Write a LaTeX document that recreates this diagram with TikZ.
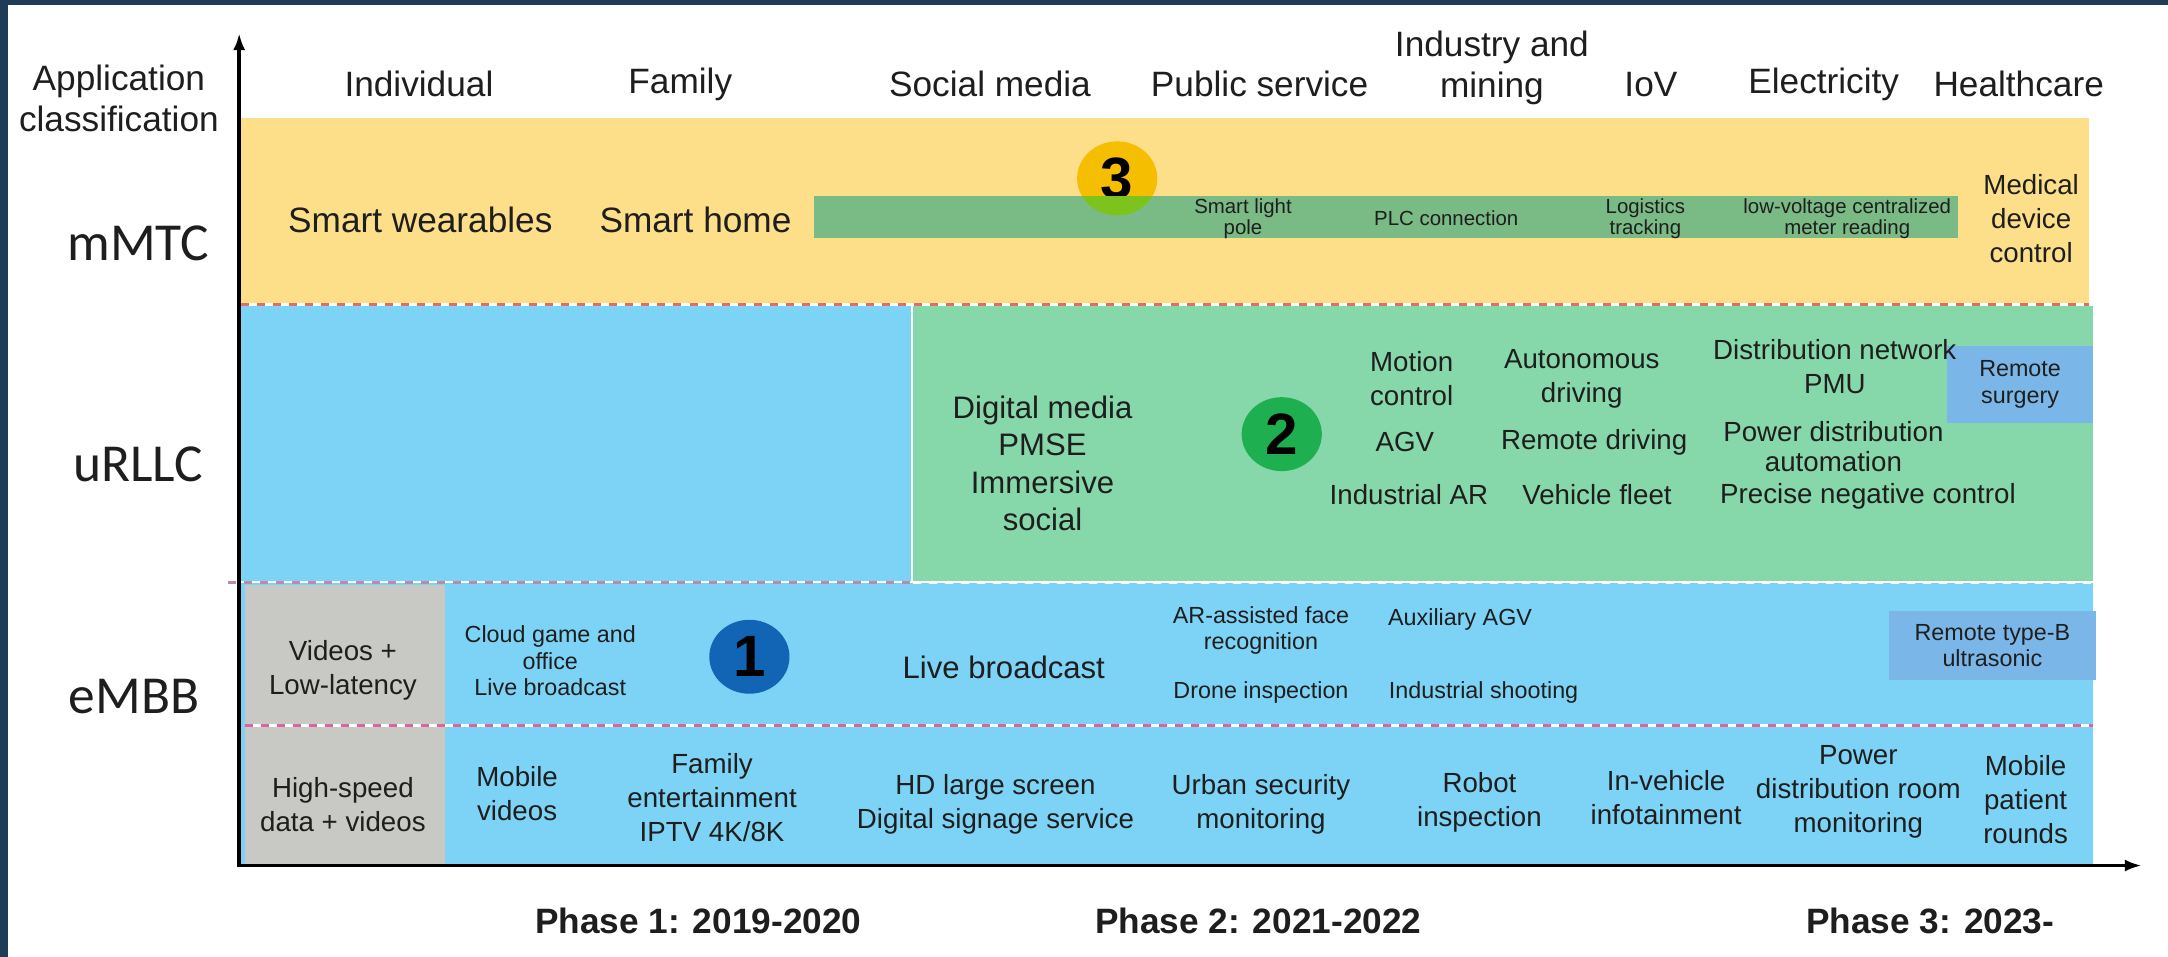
\documentclass[tikz,border=0pt]{standalone}
\usepackage{fontspec}
\setmainfont{Liberation Sans}
\newfontfamily\rowfont{Carlito}
\usetikzlibrary{arrows.meta,shapes.geometric}

\definecolor{frameblue}{RGB}{30,60,90}
\definecolor{bandyellow}{RGB}{253,223,137}
\definecolor{bandblue}{RGB}{125,211,245}
\definecolor{bandgreen}{RGB}{134,216,170}
\definecolor{cellgray}{RGB}{200,200,196}
\definecolor{boxblue}{RGB}{122,183,232}
\definecolor{bargreen}{RGB}{122,186,132}
\definecolor{limegreen}{RGB}{125,195,30}
\definecolor{dotorange}{RGB}{245,190,0}
\definecolor{dotgreen}{RGB}{30,175,80}
\definecolor{dotblue}{RGB}{18,100,180}
\definecolor{dashred}{RGB}{225,110,100}
\definecolor{dashgray}{RGB}{185,140,170}
\definecolor{dashpink}{RGB}{220,100,160}
\definecolor{txt}{RGB}{30,30,30}

\begin{document}
\begin{tikzpicture}[x=0.02cm,y=-0.02cm]

        \fill[frameblue] (0,0) rectangle (1568,692);
        \fill[white] (6,3.6) rectangle (1568,692);
        \useasboundingbox (0,0) rectangle (1568,692);

        \fill[bandyellow] (174,85.5) rectangle (1511,219);
        \fill[bandblue]   (174,221.5) rectangle (659,420.5);
        \fill[bandgreen]  (660.5,221.5) rectangle (1514,420.5);
        \fill[bandblue]   (174,422) rectangle (1514,626);
        \fill[cellgray]   (177,423) rectangle (322,626);

        \begin{scope}[line width=1.2pt,dash pattern=on 3.3pt off 3.3pt]
          \draw[dashred]  (174,220.3) -- (1511,220.3);
          \draw[dashgray] (165,421.2) -- (660,421.2);
          \draw[white]    (660,421.2) -- (1514,421.2);
          \draw[white,solid] (177,525) -- (1514,525);
          \draw[dashpink] (177,525) -- (1514,525);
        \end{scope}

        \begin{scope}[every node/.style={ellipse,minimum width=1.16cm,minimum height=1.07cm,inner sep=0pt,text=black,font=\fontsize{24}{24}\selectfont\bfseries}]
          \node[fill=dotorange] (3) at (808,129) {3};
          \fill[bargreen] (589,142) rectangle (1416,172);
          \begin{scope}
            \clip (589,142) rectangle (1416,172);
            \node[fill=limegreen] at (3) {};
          \end{scope}
          \node[fill=dotgreen] (2) at (927,314) {2};
          \node[fill=dotblue]  (1) at (542,475) {1};
        \end{scope}

        \begin{scope}[every node/.style={fill=boxblue,inner sep=0pt,align=center,text=txt,font=\fontsize{9.6}{11}\selectfont}]
          \node[minimum width=2.12cm,minimum height=1.11cm] (surgery) at (1461,278) {Remote\\surgery};
          \node[minimum width=3cm,minimum height=1cm] (typeB) at (1441,467) {Remote type-B\\ultrasonic};
        \end{scope}

        \begin{scope}[every node/.style={align=center,inner sep=0pt,text=txt,font=\fontsize{14.5}{17}\selectfont}]
          \node (appcls)  at (86,71)    {Application\\classification};
          \node (indiv)   at (303,61)   {Individual};
          \node (family)  at (492,61)   {Family};
          \node (social)  at (716,61)   {Social media};
          \node (public)  at (911,61)   {Public service};
          \node (mining)  at (1079,49)  {Industry and\\mining};
          \node (iov)     at (1194,61)  {IoV};
          \node (elec)    at (1319,61)  {Electricity};
          \node (health)  at (1460,61)  {Healthcare};
          \node (wear)    at (304,159)  {Smart wearables};
          \node (home)    at (503,159)  {Smart home};
          \node (ph1)     at (505,666)  {\bfseries Phase 1: 2019-2020};
          \node (ph2)     at (910,666)  {\bfseries Phase 2: 2021-2022};
          \node (ph3)     at (1396,666) {\bfseries Phase 3: 2023-};
        \end{scope}

        \begin{scope}[every node/.style={inner sep=0pt,text=txt,font=\rowfont\fontsize{22}{26}\selectfont}]
          \node (mmtc)  at (100,176) {mMTC};
          \node (urllc) at (100,336) {uRLLC};
          \node (embb)  at (97,504)  {eMBB};
        \end{scope}

        \begin{scope}[every node/.style={align=center,inner sep=0pt,text=txt,font=\fontsize{8.4}{8.8}\selectfont}]
          \node (pole)   at (899,158)  {Smart light\\pole};
          \node (plc)    at (1046,158) {PLC connection};
          \node (track)  at (1190,158) {Logistics\\tracking};
          \node (meter)  at (1336,158) {low-voltage centralized\\meter reading};
        \end{scope}

        \begin{scope}[every node/.style={align=center,inner sep=0pt,text=txt,font=\fontsize{12.8}{15.4}\selectfont}]
          \node (digital) at (754,335) {Digital media\\PMSE\\Immersive\\social};
          \node (live)    at (726,483) {Live broadcast};
        \end{scope}

        \begin{scope}[every node/.style={align=center,inner sep=0pt,text=txt,font=\fontsize{11.4}{14}\selectfont}]
          \node (medical) at (1469,158) {Medical\\device\\control};
          \node (motion)  at (1021,274) {Motion\\control};
          \node (autodr)  at (1144,274) {Autonomous\\driving};
          \node (agv)     at (1016,320) {AGV};
          \node (remdr)   at (1153,320) {Remote driving};
          \node (indar)   at (1019,358) {Industrial AR};
          \node (fleet)   at (1155,358) {Vehicle fleet};
          \node (pmu)     at (1327,265) {Distribution network\\PMU};
          \node[font=\fontsize{11.4}{12.6}\selectfont] (pdauto) at (1326,323) {Power distribution\\automation};
          \node (negctl)  at (1351,359) {Precise negative control};
          \node (lowlat)  at (248,485)  {Videos +\\Low-latency};
          \node (hispeed) at (248,582)  {High-speed\\data + videos};
          \node (mobvid)  at (374,574)  {Mobile\\videos};
          \node (iptv)    at (515,577)  {Family\\entertainment\\IPTV 4K/8K};
          \node (signage) at (720,582)  {HD large screen\\Digital signage service};
          \node (urban)   at (912,582)  {Urban security\\monitoring};
          \node (robot)   at (1070,580) {Robot\\inspection};
          \node (infot)   at (1205,577) {In-vehicle\\infotainment};
          \node (pdroom)  at (1344,573) {Power\\distribution room\\monitoring};
          \node (patient) at (1465,578) {Mobile\\patient\\rounds};
        \end{scope}

        \begin{scope}[every node/.style={align=center,inner sep=0pt,text=txt,font=\fontsize{9.6}{11}\selectfont}]
          \node (cloud)  at (398,478)  {Cloud game and\\office\\Live broadcast};
          \node (arface) at (912,456)  {AR-assisted face\\recognition};
          \node (drone)  at (912,501)  {Drone inspection};
          \node (auxagv) at (1056,448) {Auxiliary AGV};
          \node (shoot)  at (1073,501) {Industrial shooting};
        \end{scope}

        \coordinate (origin) at (173,626);
        \coordinate (ytip)   at (173,24);
        \coordinate (xtip)   at (1549,626);
        \draw[line width=1.6pt,{Latex[length=7pt,width=5pt]}-{Latex[length=7pt,width=5pt]}] (xtip) -- (origin) -- (ytip);

      \end{tikzpicture}
\end{document}
